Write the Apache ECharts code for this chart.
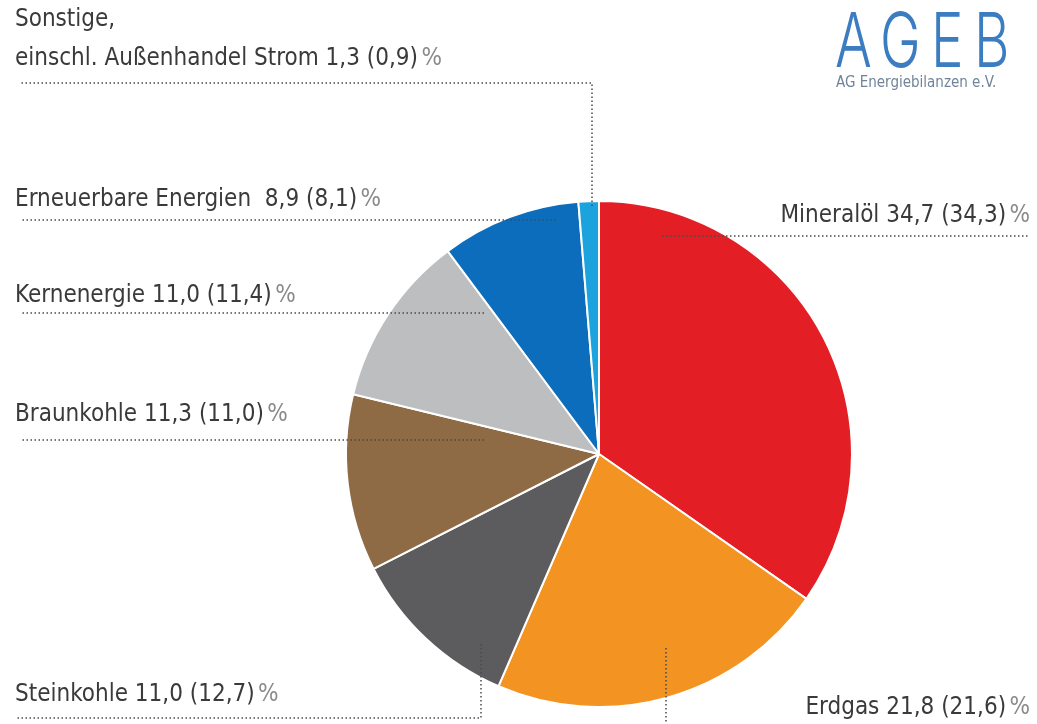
<!DOCTYPE html>
<html>
<head>
<meta charset="utf-8">
<script src="https://cdn.jsdelivr.net/npm/echarts@6/dist/echarts.min.js"></script>
<style>
  html, body { margin: 0; padding: 0; background: #fff; }
  #chart { width: 1037px; height: 724px; }
</style>
</head>
<body>
<div id="chart"></div>
<script>
// Primärenergieverbrauch Anteile in % (Vorjahr in Klammern)
const categories = [
  "Mineralöl",
  "Erdgas",
  "Steinkohle",
  "Braunkohle",
  "Kernenergie",
  "Erneuerbare Energien ",
  "Sonstige,\neinschl. Außenhandel Strom",
];
const shares = [34.7, 21.8, 11.0, 11.3, 11.0, 8.9, 1.3];
const previousShares = [34.3, 21.6, 12.7, 11.0, 11.4, 8.1, 0.9];
const colors = ["#e41e25", "#f39321", "#5c5c5e", "#8e6b45", "#bdbec0", "#0b6dbb", "#1ca2dc"];

// Textanker + gepunktete Führungslinie (Pixel)
const labelLayouts = [
  { x: 1030, y: 216, align: "right", line: [[662, 236], [900, 236], [1030, 236]] },
  { x: 1030, y: 708, align: "right", line: [[666, 648], [666, 700], [666, 730]] },
  { x: 15, y: 695, align: "left", line: [[481, 644], [481, 718], [16, 718]] },
  { x: 15, y: 415, align: "left", line: [[484, 440], [300, 440], [20, 440]] },
  { x: 15, y: 296, align: "left", line: [[484, 313], [300, 313], [20, 313]] },
  { x: 15, y: 200, align: "left", line: [[556, 220], [300, 220], [20, 220]] },
  { x: 15, y: 39, align: "left", line: [[592, 206], [592, 83], [20, 83]] },
];

const FONT = '"DejaVu Sans Condensed", "Liberation Sans Narrow", sans-serif';

function fmt(v) {
  return v.toFixed(1).replace(".", ",");
}

const chart = echarts.init(document.getElementById("chart"));

const pieData = categories.map((name, i) => ({
  name: name,
  value: shares[i],
  itemStyle: { color: colors[i] },
}));

const logoLetter = (ch, x) => ({
  type: "text",
  x: x,
  y: 44,
  scaleX: 0.72,
  style: { text: ch, font: "300 76px Inter, " + FONT, fill: "#3c7cc0", verticalAlign: "middle" },
});

chart.setOption({
  animation: false,
  backgroundColor: "#fff",
  graphic: [
    logoLetter("A", 835),
    logoLetter("G", 880),
    logoLetter("E", 931),
    logoLetter("B", 974),
    { type: "text", x: 836, y: 83, style: { text: "AG Energiebilanzen e.V.", font: "15px " + FONT, fill: "#6f8499", verticalAlign: "middle" } },
  ],
  series: [
    {
      // Kreissegmente
      type: "pie",
      z: 2,
      center: [599, 454],
      radius: 253,
      startAngle: 90,
      clockwise: true,
      silent: true,
      itemStyle: { borderColor: "#fff", borderWidth: 2 },
      label: { show: false },
      labelLine: { show: false },
      data: pieData,
    },
    {
      // Beschriftung mit Führungslinien über den Segmenten
      type: "pie",
      z: 5,
      center: [599, 454],
      radius: 253,
      startAngle: 90,
      clockwise: true,
      silent: true,
      avoidLabelOverlap: false,
      itemStyle: { color: "rgba(0,0,0,0)", borderWidth: 0 },
      label: {
        show: true,
        position: "outside",
        fontFamily: FONT,
        formatter: (p) => {
          const i = p.dataIndex;
          const lines = categories[i].split("\n");
          const last = lines.pop();
          const head = lines.map((l) => "{t|" + l + "}\n").join("");
          return head + "{t|" + last + " " + fmt(shares[i]) + " (" + fmt(previousShares[i]) + ")} {p|%}";
        },
        rich: {
          t: { fontFamily: FONT, fontSize: 24, color: "#3a3a3a", lineHeight: 39 },
          p: { fontFamily: FONT, fontSize: 24, color: "#8a8a8a", lineHeight: 39 },
        },
      },
      labelLine: {
        show: true,
        smooth: false,
        lineStyle: { color: "#4a4a4a", width: 1.5, type: [1.5, 2.5] },
      },
      labelLayout: (params) => {
        const l = labelLayouts[params.dataIndex];
        return {
          x: l.x,
          y: l.y,
          align: l.align,
          verticalAlign: "middle",
          labelLinePoints: l.line,
        };
      },
      data: categories.map((name, i) => ({ name: name, value: shares[i] })),
    },
  ],
});
</script>
</body>
</html>
